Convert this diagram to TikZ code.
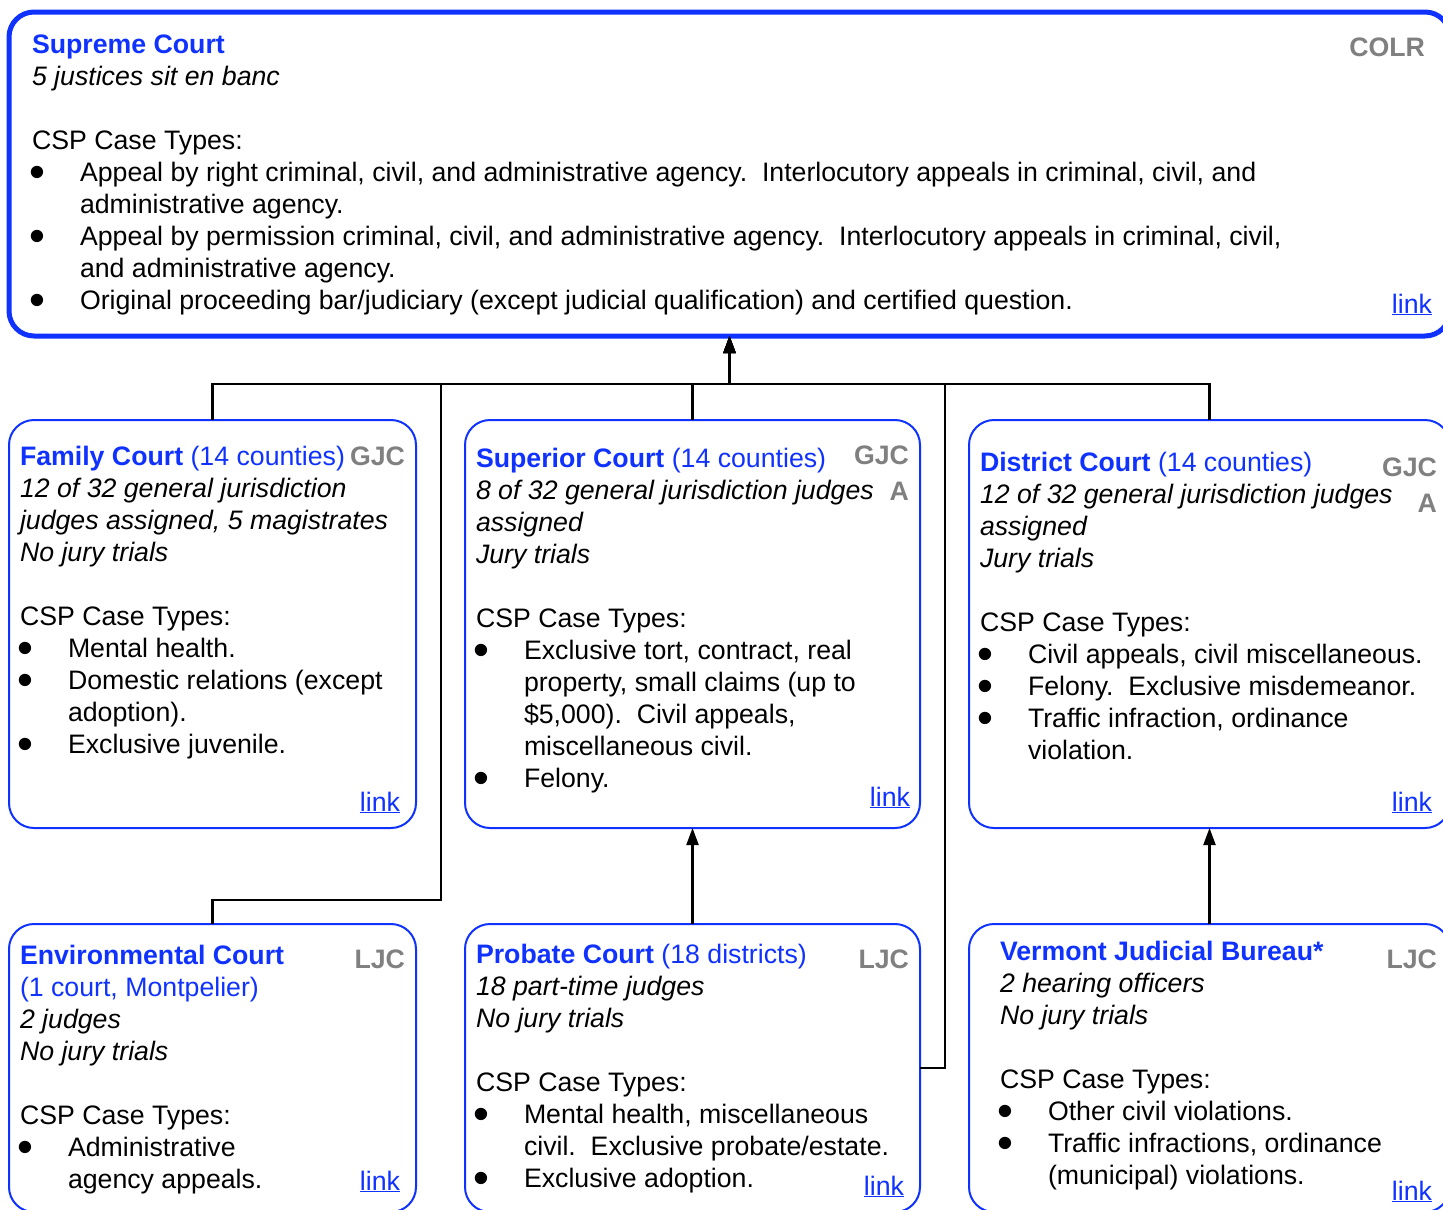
\documentclass[tikz,border=0pt]{standalone}
\usepackage{fontspec}
\setmainfont{Liberation Sans}
\usepackage{graphicx}
\usetikzlibrary{arrows.meta}
\definecolor{cblue}{RGB}{16,50,255}
\definecolor{cgray}{RGB}{128,128,128}
\frenchspacing
\newcommand\bpt{\makebox[48pt][l]{\hspace{-2.5pt}\raisebox{-6.5pt}[0pt][0pt]{\scalebox{1.7}{•}}}}
\newcommand\ind{\hspace*{48pt}}
\newcommand\lnk{\textcolor{cblue}{\underline{link}}}
\newcommand\ttl[2]{\textcolor{cblue}{\textbf{#1}#2}}
\newcommand\blk[1]{\parbox[t]{1400pt}{\raggedright #1}}
\begin{document}
\begin{tikzpicture}[x=1pt,y=-1pt,
  every node/.style={inner sep=0pt, outer sep=0pt, font=\fontsize{26.7}{32}\selectfont},
  crt/.style={draw=cblue, line width=2pt, rounded corners=25pt, rectangle},
  txt/.style={anchor=base west},
  tag/.style={anchor=base east, text=cgray, font=\fontsize{26.7}{32}\selectfont\bfseries},
  lk/.style={anchor=base east},
  conn/.style={draw=black, line width=2.2pt},
  arr/.style={conn, -{Triangle[length=17pt,width=12pt]}}]
\useasboundingbox (0,0) rectangle (1443,1210);
\clip (0,0) rectangle (1443,1210);
\fill[white] (0,0) rectangle (1443,1210);

% boxes
\node[crt, line width=5pt, minimum width=1441pt, minimum height=324pt] (sup) at (729.5,174) {};
\node[crt, minimum width=407pt, minimum height=408pt] (fam) at (212.5,624) {};
\node[crt, minimum width=455pt, minimum height=408pt] (supr) at (692.5,624) {};
\node[crt, minimum width=481pt, minimum height=408pt] (dist) at (1209.5,624) {};
\node[crt, minimum width=407pt, minimum height=288pt] (env) at (212.5,1068) {};
\node[crt, minimum width=455pt, minimum height=288pt] (prob) at (692.5,1068) {};
\node[crt, minimum width=481pt, minimum height=288pt] (vjb) at (1209.5,1068) {};

% connectors
\coordinate (bus) at (0,384);
\coordinate (envbend) at (441,900);
\coordinate (probbend) at (945,1068);
\draw[arr] (fam.north) -- (fam.north |- bus) -- (bus -| sup.south) -- (sup.south);
\draw[arr] (supr.north) -- (supr.north |- bus) -- (bus -| sup.south) -- (sup.south);
\draw[arr] (dist.north) -- (dist.north |- bus) -- (bus -| sup.south) -- (sup.south);
\draw[arr] (env.north) |- (envbend) -- (envbend |- bus) -- (bus -| sup.south) -- (sup.south);
\draw[arr] (prob.east) -- (probbend) -- (probbend |- bus) -- (bus -| sup.south) -- (sup.south);
\draw[arr] (prob.north) -- (supr.south);
\draw[arr] (vjb.north) -- (dist.south);

% Supreme Court
\node[txt] (supT) at (32,53) {\blk{\ttl{Supreme Court}{}\\
\textit{5 justices sit en banc}\\[32pt]
CSP Case Types:\\
\bpt Appeal by right criminal, civil, and administrative agency.~ Interlocutory appeals in criminal, civil, and\\
\ind administrative agency.\\
\bpt Appeal by permission criminal, civil, and administrative agency.~ Interlocutory appeals in criminal, civil,\\
\ind and administrative agency.\\
\bpt Original proceeding bar/judiciary (except judicial qualification) and certified question.}};
\node[tag] (supG) at (1425,56) {COLR};
\node[lk] (supK) at (1432,313) {\lnk};

% Family Court
\node[txt] (famT) at (20,465) {\blk{\ttl{Family Court}{ (14 counties)}\\
\textit{12 of 32 general jurisdiction}\\
\textit{judges assigned, 5 magistrates}\\
\textit{No jury trials}\\[32pt]
CSP Case Types:\\
\bpt Mental health.\\
\bpt Domestic relations (except\\
\ind adoption).\\
\bpt Exclusive juvenile.}};
\node[tag] (famG) at (405,465) {GJC};
\node[lk] (famK) at (400,811) {\lnk};

% Superior Court
\node[txt] (suprT) at (476,467) {\blk{\ttl{Superior Court}{ (14 counties)}\\
\textit{8 of 32 general jurisdiction judges}\\
\textit{assigned}\\
\textit{Jury trials}\\[32pt]
CSP Case Types:\\
\bpt Exclusive tort, contract, real\\
\ind property, small claims (up to\\
\ind \$5,000).~ Civil appeals,\\
\ind miscellaneous civil.\\
\bpt Felony.}};
\node[tag] (suprG) at (909,464) {GJC};
\node[tag] (suprA) at (909,500) {A};
\node[lk] (suprK) at (910,806) {\lnk};

% District Court
\node[txt] (distT) at (980,471) {\blk{\ttl{District Court}{ (14 counties)}\\
\textit{12 of 32 general jurisdiction judges}\\
\textit{assigned}\\
\textit{Jury trials}\\[32pt]
CSP Case Types:\\
\bpt Civil appeals, civil miscellaneous.\\
\bpt Felony.~ Exclusive misdemeanor.\\
\bpt Traffic infraction, ordinance\\
\ind violation.}};
\node[tag] (distG) at (1437,476) {GJC};
\node[tag] (distA) at (1437,512) {A};
\node[lk] (distK) at (1432,811) {\lnk};

% Environmental Court
\node[txt] (envT) at (20,964) {\blk{\ttl{Environmental Court}{}\\
\textcolor{cblue}{(1 court, Montpelier)}\\
\textit{2 judges}\\
\textit{No jury trials}\\[32pt]
CSP Case Types:\\
\bpt Administrative\\
\ind agency appeals.}};
\node[tag] (envG) at (405,968) {LJC};
\node[lk] (envK) at (400,1190) {\lnk};

% Probate Court
\node[txt] (probT) at (476,963) {\blk{\ttl{Probate Court}{ (18 districts)}\\
\textit{18 part-time judges}\\
\textit{No jury trials}\\[32pt]
CSP Case Types:\\
\bpt Mental health, miscellaneous\\
\ind civil.~ Exclusive probate/estate.\\
\bpt Exclusive adoption.}};
\node[tag] (probG) at (909,968) {LJC};
\node[lk] (probK) at (904,1195) {\lnk};

% Vermont Judicial Bureau
\node[txt] (vjbT) at (1000,960) {\blk{\ttl{Vermont Judicial Bureau*}{}\\
\textit{2 hearing officers}\\
\textit{No jury trials}\\[32pt]
CSP Case Types:\\
\bpt Other civil violations.\\
\bpt Traffic infractions, ordinance\\
\ind (municipal) violations.}};
\node[tag] (vjbG) at (1437,968) {LJC};
\node[lk] (vjbK) at (1432,1200) {\lnk};
\end{tikzpicture}
\end{document}
